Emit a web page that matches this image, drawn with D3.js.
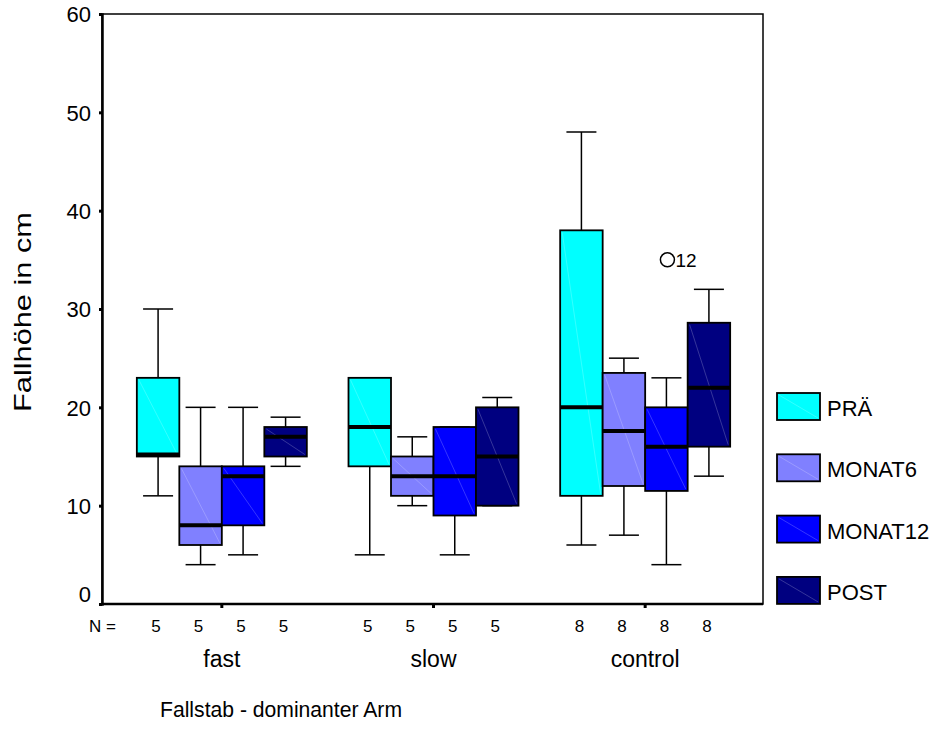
<!DOCTYPE html>
<html>
<head>
<meta charset="utf-8">
<script src="https://cdn.jsdelivr.net/npm/d3@7"></script>
<style>
  body { margin: 0; background: #fff; }
  svg text { font-family: "Liberation Sans", Arial, sans-serif; fill: #000; }
</style>
</head>
<body>
<div id="area"></div>
<script>
// groups on the x axis, series inside each group
var groups = ["fast", "slow", "control"];
var seriesNames = ["PRÄ", "MONAT6", "MONAT12", "POST"];
var colors = ["#00ffff", "#8080ff", "#0000ff", "#000080"];
var nCounts = [5, 5, 8];
var yTicks = [0, 10, 20, 30, 40, 50, 60];

// box stats per group: [min, q1, median, q3, max]
var praStats     = [[11, 15, 15.2, 23, 30], [5, 14, 18, 23, 23], [6, 11, 20, 38, 48]];
var monat6Stats  = [[4, 6, 8, 14, 20], [10, 11, 13, 15, 17], [7, 12, 17.6, 23.5, 25]];
var monat12Stats = [[5, 8, 13, 14, 20], [5, 9, 13, 18, 18], [4, 11.5, 16, 20, 23]];
var postStats    = [[14, 15, 17, 18, 19], [10, 10, 15, 20, 21], [13, 16, 22, 28.6, 32]];

// outliers: group, series, value, case label
var outGroup = ["control"];
var outSeries = ["MONAT12"];
var outValue = [35];
var outLabel = ["12"];

var allStats = [praStats, monat6Stats, monat12Stats, postStats];

var margin = { top: 14, right: 763, bottom: 604, left: 102 };

var svg = d3.select("#area").append("svg")
    .attr("width", 940)
    .attr("height", 748);

var y = d3.scaleLinear().domain([0, 60]).range([margin.bottom, margin.top]);
var x0 = d3.scaleBand().domain(groups).range([116, 751]);
var x1 = d3.scaleBand().domain(seriesNames).range([-85, 85]);

function cx(g, s) {
    return x0(g) + x0.bandwidth() / 2 + x1(s) + x1.bandwidth() / 2;
}

// frame
svg.append("rect")
    .attr("x", margin.left).attr("y", margin.top)
    .attr("width", margin.right - margin.left).attr("height", margin.bottom - margin.top)
    .attr("fill", "none").attr("stroke", "#000").attr("stroke-width", 1.5);

// y axis
var yAxis = svg.append("g")
    .attr("transform", "translate(" + margin.left + ",0)")
    .call(d3.axisLeft(y).tickValues(yTicks).tickSize(3).tickPadding(8));
yAxis.select(".domain").attr("stroke", "#000").attr("stroke-width", 2.5);
yAxis.selectAll(".tick line").attr("stroke", "#000").attr("stroke-width", 3);
yAxis.selectAll(".tick text")
    .style("font-size", "22px")
    .attr("dy", function (d) { return d === 0 ? "-0.1em" : "0.36em"; });

// x axis
var xAxis = svg.append("g")
    .attr("transform", "translate(0," + margin.bottom + ")")
    .call(d3.axisBottom(x0).tickSize(4).tickFormat(""));
xAxis.select(".domain").remove();
xAxis.selectAll(".tick line").attr("stroke", "#000").attr("stroke-width", 3);
svg.append("line")
    .attr("x1", margin.left).attr("x2", margin.right)
    .attr("y1", margin.bottom).attr("y2", margin.bottom)
    .attr("stroke", "#000").attr("stroke-width", 2.5);

// boxes
var boxW = x1.bandwidth();
var capW = 30;
seriesNames.forEach(function (s, si) {
    groups.forEach(function (g, gi) {
        var st = allStats[si][gi];
        var c = cx(g, s);
        var gg = svg.append("g");
        // whiskers
        gg.append("line").attr("x1", c).attr("x2", c)
            .attr("y1", y(st[3])).attr("y2", y(st[4]))
            .attr("stroke", "#000").attr("stroke-width", 1.5);
        gg.append("line").attr("x1", c).attr("x2", c)
            .attr("y1", y(st[0])).attr("y2", y(st[1]))
            .attr("stroke", "#000").attr("stroke-width", 1.5);
        gg.append("line").attr("x1", c - capW / 2).attr("x2", c + capW / 2)
            .attr("y1", y(st[4])).attr("y2", y(st[4]))
            .attr("stroke", "#000").attr("stroke-width", 1.5);
        gg.append("line").attr("x1", c - capW / 2).attr("x2", c + capW / 2)
            .attr("y1", y(st[0])).attr("y2", y(st[0]))
            .attr("stroke", "#000").attr("stroke-width", 1.5);
        // box
        gg.append("rect")
            .attr("x", c - boxW / 2).attr("y", y(st[3]))
            .attr("width", boxW).attr("height", y(st[1]) - y(st[3]))
            .attr("fill", colors[si]).attr("stroke", "#000").attr("stroke-width", 1.8);
        // faint diagonal (old SPSS render artifact)
        gg.append("line")
            .attr("x1", c - boxW / 2 + 2).attr("y1", y(st[3]) + 2)
            .attr("x2", c + boxW / 2 - 2).attr("y2", y(st[1]) - 2)
            .attr("stroke", "#fff").attr("stroke-opacity", 0.3).attr("stroke-width", 0.7);
        // median
        gg.append("line")
            .attr("x1", c - boxW / 2).attr("x2", c + boxW / 2)
            .attr("y1", y(st[2])).attr("y2", y(st[2]))
            .attr("stroke", "#000").attr("stroke-width", 4);
    });
});

// outliers
outValue.forEach(function (v, i) {
    var c = cx(outGroup[i], outSeries[i]);
    svg.append("circle")
        .attr("cx", c + 1).attr("cy", y(v)).attr("r", 7)
        .attr("fill", "none").attr("stroke", "#000").attr("stroke-width", 1.5);
    svg.append("text")
        .attr("x", c + 9).attr("y", y(v) + 7)
        .style("font-size", "19px")
        .text(outLabel[i]);
});

// N labels
svg.append("text").attr("x", 89).attr("y", 632).style("font-size", "17px").text("N =");
groups.forEach(function (g, gi) {
    seriesNames.forEach(function (s) {
        svg.append("text")
            .attr("x", cx(g, s) - 2).attr("y", 632)
            .attr("text-anchor", "middle")
            .style("font-size", "17px")
            .text(nCounts[gi]);
    });
    svg.append("text")
        .attr("x", x0(g) + x0.bandwidth() / 2).attr("y", 667)
        .attr("text-anchor", "middle")
        .style("font-size", "23px")
        .text(g);
});

// axis titles
svg.append("text")
    .attr("x", 160).attr("y", 717)
    .attr("textLength", 242)
    .attr("lengthAdjust", "spacingAndGlyphs")
    .style("font-size", "22.5px")
    .text("Fallstab - dominanter Arm");
svg.append("text")
    .attr("transform", "translate(31,312) rotate(-90)")
    .attr("text-anchor", "middle")
    .attr("textLength", 200)
    .attr("lengthAdjust", "spacingAndGlyphs")
    .style("font-size", "24px")
    .text("Fallhöhe in cm");

// legend
var leg = svg.append("g").attr("transform", "translate(777,393)");
seriesNames.forEach(function (s, i) {
    var row = leg.append("g").attr("transform", "translate(0," + (i * 61.3) + ")");
    row.append("rect").attr("width", 43).attr("height", 27)
        .attr("fill", colors[i]).attr("stroke", "#000").attr("stroke-width", 1.8);
    row.append("line").attr("x1", 2).attr("y1", 2).attr("x2", 41).attr("y2", 25)
        .attr("stroke", "#fff").attr("stroke-opacity", 0.3).attr("stroke-width", 0.7);
    row.append("text").attr("x", 50).attr("y", 23)
        .style("font-size", "22px")
        .text(s);
});
</script>
</body>
</html>
